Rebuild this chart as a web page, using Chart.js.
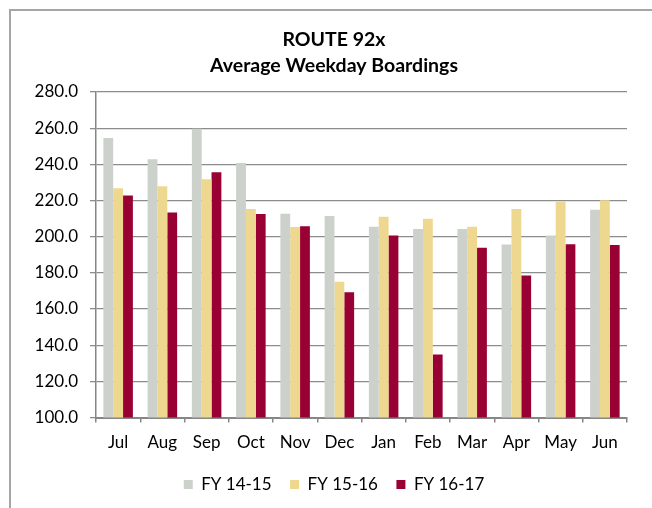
<!DOCTYPE html>
<html>
<head>
<meta charset="utf-8">
<script src="https://cdn.jsdelivr.net/npm/chart.js@4.4.1/dist/chart.umd.min.js"></script>
<style>
html,body{margin:0;padding:0;background:#fff;}
#wrap{width:652px;height:508px;position:relative;}
</style>
</head>
<body>
<div id="wrap"><canvas id="c" width="652" height="508"></canvas></div>
<script>
const titleLines = ["ROUTE 92x", "Average Weekday Boardings"];
const months = ["Jul","Aug","Sep","Oct","Nov","Dec","Jan","Feb","Mar","Apr","May","Jun"];
const seriesNames = ["FY 14-15", "FY 15-16", "FY 16-17"];
const fy1415 = [254.5, 242.8, 259.7, 240.7, 212.7, 211.4, 205.5, 204.3, 204.3, 195.6, 200.7, 214.9];
const fy1516 = [226.8, 227.9, 231.7, 215.3, 205.4, 175.0, 211.0, 209.9, 205.5, 215.3, 219.5, 220.2];
const fy1617 = [222.7, 213.4, 235.6, 212.5, 205.8, 169.3, 200.7, 134.9, 193.8, 178.5, 195.8, 195.4];
const yMin = 100, yMax = 280, yStep = 20;

const FONT = "Lato, 'Liberation Sans', sans-serif";

const framePlugin = {
  id: 'frame',
  beforeDraw(chart) {
    const ctx = chart.ctx;
    ctx.save();
    ctx.fillStyle = '#fff';
    ctx.fillRect(0, 0, chart.width, chart.height);
    ctx.strokeStyle = '#a6a6a6';
    ctx.lineWidth = 2;
    ctx.beginPath();
    ctx.moveTo(10, 508);
    ctx.lineTo(10, 10);
    ctx.lineTo(652, 10);
    ctx.stroke();
    ctx.restore();
  }
};

new Chart(document.getElementById('c'), {
  type: 'bar',
  data: {
    labels: months,
    datasets: [
      { label: seriesNames[0], data: fy1415, backgroundColor: '#ccd1cc' },
      { label: seriesNames[1], data: fy1516, backgroundColor: '#eed78e' },
      { label: seriesNames[2], data: fy1617, backgroundColor: '#990033' }
    ]
  },
  options: {
    responsive: false,
    animation: false,
    devicePixelRatio: 1,
    layout: { padding: { left: 30, right: 14, top: 0, bottom: 5 } },
    datasets: { bar: { categoryPercentage: 0.667, barPercentage: 1.0 } },
    plugins: {
      title: {
        display: true,
        text: titleLines,
        color: '#000',
        font: { family: FONT, size: 19.5, weight: 'bold', lineHeight: 1.333 },
        padding: { top: 27, bottom: 13 }
      },
      legend: {
        position: 'bottom',
        labels: {
          color: '#000',
          font: { family: FONT, size: 17 },
          boxWidth: 9,
          boxHeight: 9,
          padding: 18.5
        }
      },
      tooltip: { enabled: false }
    },
    scales: {
      x: {
        grid: { offset: true, drawOnChartArea: false, drawTicks: true, tickLength: 5, color: '#868686', lineWidth: 1.5 },
        border: { color: '#868686', width: 2 },
        ticks: { color: '#000', font: { family: FONT, size: 17 }, padding: 10 },
        afterFit(scale) { scale.height = 40; }
      },
      y: {
        min: yMin,
        max: yMax,
        grid: { color: '#8c8c8c', lineWidth: 1.3, tickLength: 6 },
        border: { color: '#868686', width: 1.5 },
        ticks: {
          stepSize: yStep,
          color: '#000',
          font: { family: FONT, size: 17 },
          padding: 12,
          callback: v => Number(v).toFixed(1)
        },
        afterFit(scale) { scale.width = 66; }
      },
      ySpacer: {
        position: 'right',
        display: true,
        grid: { display: false },
        border: { display: false },
        ticks: { display: false },
        afterFit(scale) { scale.width = 11; }
      }
    }
  },
  plugins: [framePlugin]
});
</script>
</body>
</html>
